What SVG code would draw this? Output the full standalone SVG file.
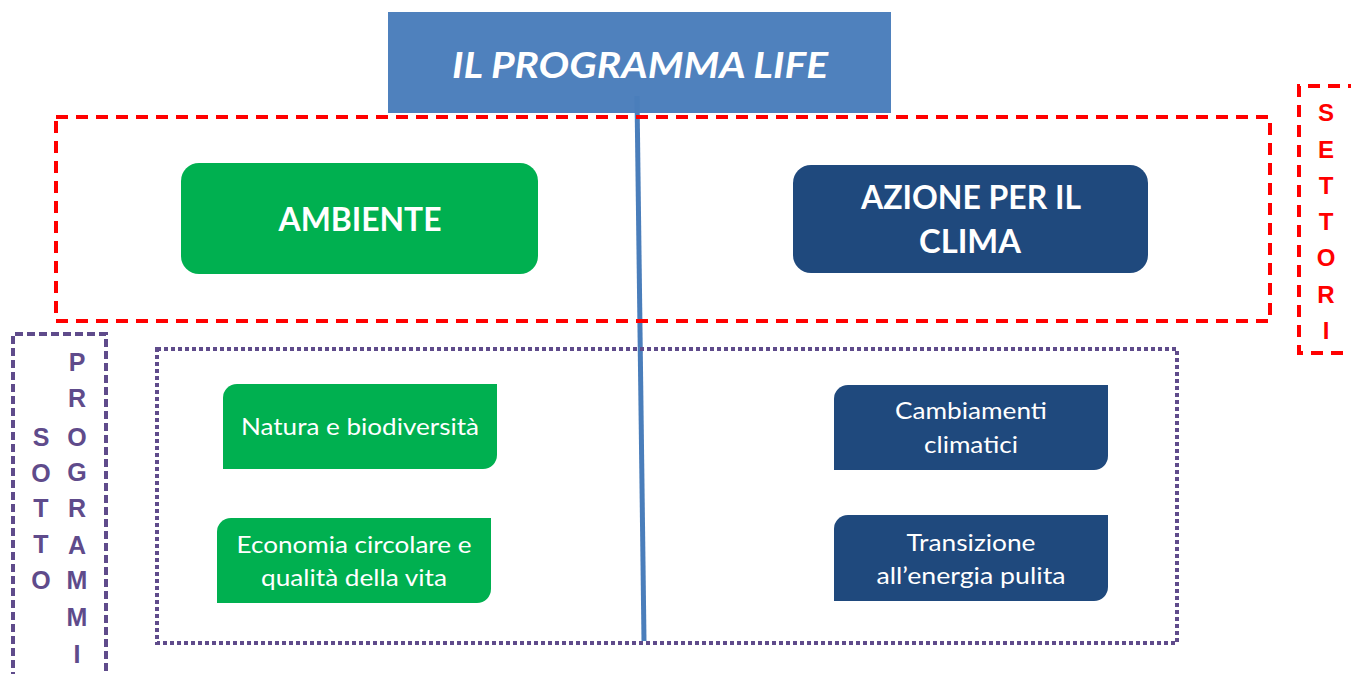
<svg xmlns="http://www.w3.org/2000/svg" width="1351" height="674" viewBox="0 0 1351 674">
<style>
.t{font-family:Lato,"Open Sans","Liberation Sans",sans-serif;fill:#fff;text-anchor:middle}
.big{font-size:32px;font-weight:bold}
.sm{font-size:22.5px}
.red{fill:none;stroke:#ff0000;stroke-width:4;stroke-dasharray:12 8}
.pur{fill:none;stroke:#5f4b8b;stroke-width:4}
.lr{font-family:"Liberation Sans",Arial,sans-serif;font-weight:bold;font-size:24px;fill:#ff0000;text-anchor:middle}
.lp{font-family:"Liberation Sans",Arial,sans-serif;font-weight:bold;font-size:25px;fill:#5f4b8b;text-anchor:middle}
.g{fill:#00b050}
.b{fill:#1f497d}
</style>
<rect width="1351" height="674" fill="#fff"/>
<g id="title">
<rect x="388" y="12" width="503" height="101" fill="#4f81bd"/>
<text class="t" x="640" y="78" font-size="37" font-weight="bold" font-style="italic" textLength="376" lengthAdjust="spacingAndGlyphs">IL PROGRAMMA LIFE</text>
</g>
<g id="connectors">
<line x1="637" y1="96" x2="644" y2="641" stroke="#4a7ebb" stroke-width="5"/>
</g>
<g id="settori-frame">
<rect class="red" x="56" y="117" width="1214" height="204"/>
<path class="red" d="M1360,86 H1299 V353 H1360"/>
<text class="lr" x="1326" y="121">S</text>
<text class="lr" x="1326" y="158">E</text>
<text class="lr" x="1326" y="194">T</text>
<text class="lr" x="1326" y="230">T</text>
<text class="lr" x="1326" y="266">O</text>
<text class="lr" x="1326" y="303">R</text>
<text class="lr" x="1326" y="339">I</text>
</g>
<g id="sottoprogrammi-frame">
<rect class="pur" x="157" y="349" width="1020" height="294" stroke-dasharray="4 3"/>
<path class="pur" d="M13,680 V334 H106 V680" stroke-dasharray="8 4" stroke-width="3"/>
<text class="lp" x="41" y="446">S</text>
<text class="lp" x="41" y="482">O</text>
<text class="lp" x="41" y="517">T</text>
<text class="lp" x="41" y="553">T</text>
<text class="lp" x="41" y="589">O</text>
<text class="lp" x="77" y="371">P</text>
<text class="lp" x="77" y="407">R</text>
<text class="lp" x="77" y="446">O</text>
<text class="lp" x="77" y="481">G</text>
<text class="lp" x="77" y="517">R</text>
<text class="lp" x="77" y="554">A</text>
<text class="lp" x="77" y="589">M</text>
<text class="lp" x="77" y="626">M</text>
<text class="lp" x="77" y="663">I</text>
</g>
<g id="ambiente">
<rect class="g" x="181" y="163" width="357" height="111" rx="18"/>
<text class="t big" x="360" y="231" textLength="163" lengthAdjust="spacingAndGlyphs">AMBIENTE</text>
</g>
<g id="clima">
<rect class="b" x="793" y="165" width="355" height="108" rx="18"/>
<text class="t big" x="971" y="209" textLength="220" lengthAdjust="spacingAndGlyphs">AZIONE PER IL</text>
<text class="t big" x="970" y="253" textLength="102" lengthAdjust="spacingAndGlyphs">CLIMA</text>
</g>
<g id="natura">
<path class="g" d="M237,384 H497 V455 A14,14 0 0 1 483,469 H223 V398 A14,14 0 0 1 237,384 Z"/>
<text class="t sm" x="360" y="435" textLength="238" lengthAdjust="spacingAndGlyphs">Natura e biodiversità</text>
</g>
<g id="economia">
<path class="g" d="M231,518 H491 V589 A14,14 0 0 1 477,603 H217 V532 A14,14 0 0 1 231,518 Z"/>
<text class="t sm" x="354" y="553" textLength="235" lengthAdjust="spacingAndGlyphs">Economia circolare e</text>
<text class="t sm" x="354" y="586" textLength="186" lengthAdjust="spacingAndGlyphs">qualità della vita</text>
</g>
<g id="cambiamenti">
<path class="b" d="M848,385 H1108 V456 A14,14 0 0 1 1094,470 H834 V399 A14,14 0 0 1 848,385 Z"/>
<text class="t sm" x="971" y="419" textLength="152" lengthAdjust="spacingAndGlyphs">Cambiamenti</text>
<text class="t sm" x="971" y="453" textLength="94" lengthAdjust="spacingAndGlyphs">climatici</text>
</g>
<g id="transizione">
<path class="b" d="M848,515 H1108 V587 A14,14 0 0 1 1094,601 H834 V529 A14,14 0 0 1 848,515 Z"/>
<text class="t sm" x="971" y="551" textLength="129" lengthAdjust="spacingAndGlyphs">Transizione</text>
<text class="t sm" x="971" y="584" textLength="189" lengthAdjust="spacingAndGlyphs">all’energia pulita</text>
</g>
</svg>
